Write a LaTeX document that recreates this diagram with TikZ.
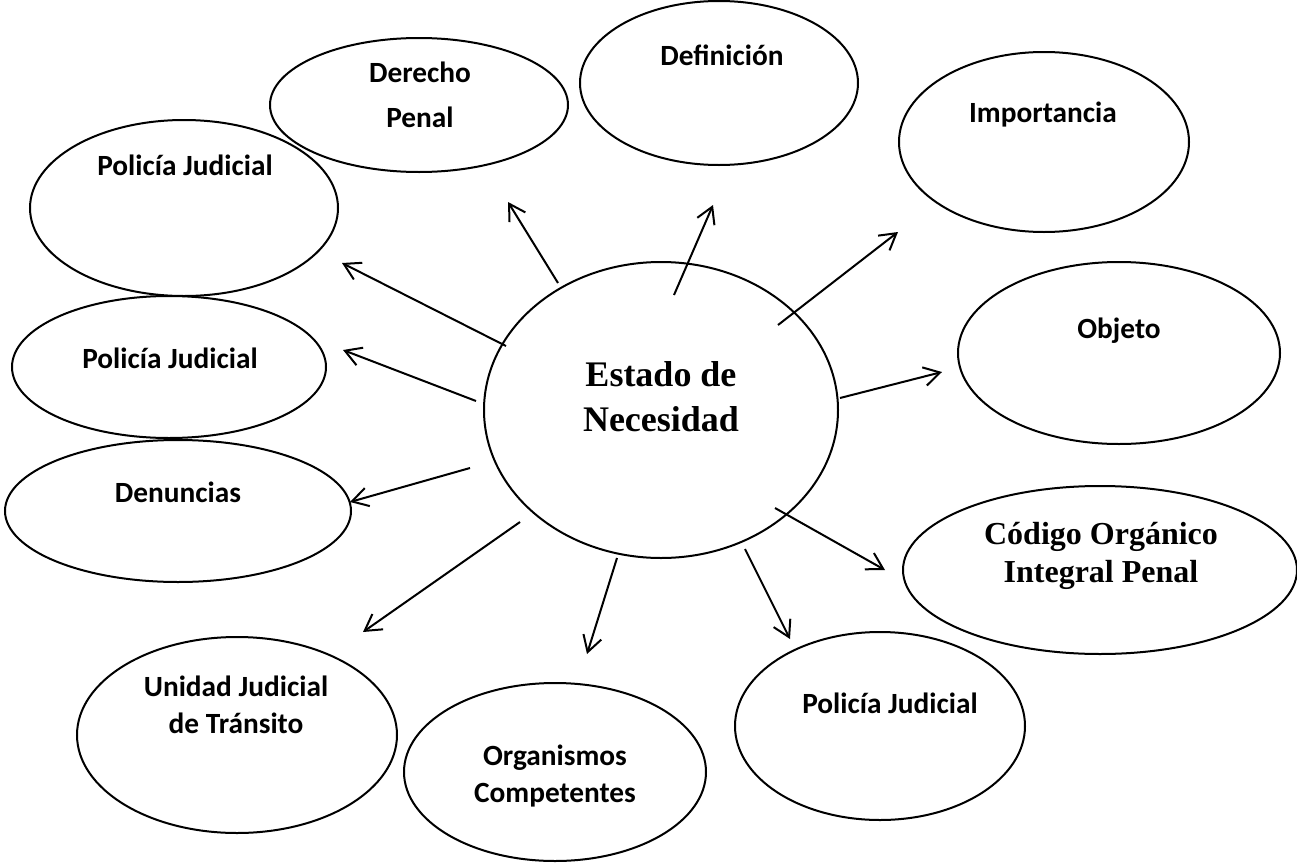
\documentclass[tikz,border=0pt]{standalone}
\usepackage{fontspec}
\setmainfont{Liberation Serif}
\newfontfamily\carlitofont{Carlito}
\usetikzlibrary{shapes.geometric,arrows.meta}

\newlength{\du}
\setlength{\du}{0.75pt}

\tikzset{
  bubble/.style={draw=black, line width=1.5pt, ellipse, inner sep=0pt},
  sanslabel/.style={font=\carlitofont\bfseries\fontsize{22}{27.5}\selectfont, align=center, inner sep=0pt},
  seriflabel/.style={font=\bfseries\fontsize{27}{34}\selectfont, align=center, inner sep=0pt},
  pointer/.style={line width=1.5pt, -{Straight Barb[length=12pt,width=14pt]}},
}

\begin{document}
\begin{tikzpicture}
\pgftransformxscale{1.000000}
\pgftransformyscale{-1.000000}
\useasboundingbox (0\du,0\du) rectangle (1297\du,864\du);
% ellipses
\node[bubble, minimum width=354\du, minimum height=296\du] (estado) at (661\du,410\du) {};
\node[bubble, minimum width=298\du, minimum height=134\du] (derecho) at (419\du,105\du) {};
\node[bubble, minimum width=278\du, minimum height=164\du] (definicion) at (719\du,83\du) {};
\node[bubble, minimum width=290\du, minimum height=180\du] (importancia) at (1044\du,142\du) {};
\node[bubble, minimum width=308\du, minimum height=176\du] (policiaA) at (184\du,208\du) {};
\node[bubble, minimum width=322\du, minimum height=182\du] (objeto) at (1119\du,353\du) {};
\node[bubble, minimum width=314\du, minimum height=142\du] (policiaB) at (169\du,367\du) {};
\node[bubble, minimum width=346\du, minimum height=142\du] (denuncias) at (178\du,511\du) {};
\node[bubble, minimum width=394\du, minimum height=168\du] (codigo) at (1100\du,570\du) {};
\node[bubble, minimum width=320\du, minimum height=196\du] (unidad) at (237\du,735\du) {};
\node[bubble, minimum width=302\du, minimum height=178\du] (organismos) at (555\du,772\du) {};
\node[bubble, minimum width=290\du, minimum height=188\du] (policiaC) at (880\du,726\du) {};
% texts
\node[seriflabel] (estadotext) at (661\du,397\du) {Estado de\\Necesidad};
\node[sanslabel] (derechotext) at (420\du,95\du) {Derecho\\[6pt]Penal};
\node[sanslabel] (definiciontext) at (722\du,55\du) {Definición};
\node[sanslabel] (importanciatext) at (1043\du,115\du) {Importancia};
\node[sanslabel] (policiaAtext) at (185\du,165\du) {Policía Judicial};
\node[sanslabel] (objetotext) at (1119\du,331\du) {Objeto};
\node[sanslabel] (policiaBtext) at (170\du,358\du) {Policía Judicial};
\node[sanslabel] (denunciastext) at (178\du,492\du) {Denuncias};
\node[seriflabel, font=\bfseries\fontsize{24}{29}\selectfont] (codigotext) at (1101\du,556\du) {Código Orgánico\\Integral Penal};
\node[sanslabel] (unidadtext) at (236\du,705\du) {Unidad Judicial\\de Tránsito};
\node[sanslabel] (organismostext) at (555\du,776\du) {Organismos\\Competentes};
\node[sanslabel] (policiaCtext) at (890\du,703\du) {Policía Judicial};
% arrow ends
\coordinate (fromderecho) at (558\du,283\du);
\coordinate (toderecho) at (508\du,202\du);
\coordinate (fromdefinicion) at (674\du,295\du);
\coordinate (todefinicion) at (713\du,205\du);
\coordinate (fromimportancia) at (778\du,325\du);
\coordinate (toimportancia) at (898\du,232\du);
\coordinate (fromobjeto) at (840\du,398\du);
\coordinate (toobjeto) at (942\du,372\du);
\coordinate (fromcodigo) at (775\du,508\du);
\coordinate (tocodigo) at (885\du,570\du);
\coordinate (frompoliciaC) at (745\du,549\du);
\coordinate (topoliciaC) at (790\du,639\du);
\coordinate (fromorganismos) at (617\du,558\du);
\coordinate (toorganismos) at (587\du,654\du);
\coordinate (fromunidad) at (520\du,522\du);
\coordinate (tounidad) at (363\du,632\du);
\coordinate (fromdenuncias) at (470\du,468\du);
\coordinate (todenuncias) at (350\du,502\du);
\coordinate (frompoliciaB) at (476\du,401\du);
\coordinate (topoliciaB) at (343\du,350\du);
\coordinate (frompoliciaA) at (506\du,346\du);
\coordinate (topoliciaA) at (342\du,263\du);
% arrows
\draw[pointer] (fromderecho) -- (toderecho);
\draw[pointer] (fromdefinicion) -- (todefinicion);
\draw[pointer] (fromimportancia) -- (toimportancia);
\draw[pointer] (fromobjeto) -- (toobjeto);
\draw[pointer] (fromcodigo) -- (tocodigo);
\draw[pointer] (frompoliciaC) -- (topoliciaC);
\draw[pointer] (fromorganismos) -- (toorganismos);
\draw[pointer] (fromunidad) -- (tounidad);
\draw[pointer] (fromdenuncias) -- (todenuncias);
\draw[pointer] (frompoliciaB) -- (topoliciaB);
\draw[pointer] (frompoliciaA) -- (topoliciaA);
\end{tikzpicture}
\end{document}
